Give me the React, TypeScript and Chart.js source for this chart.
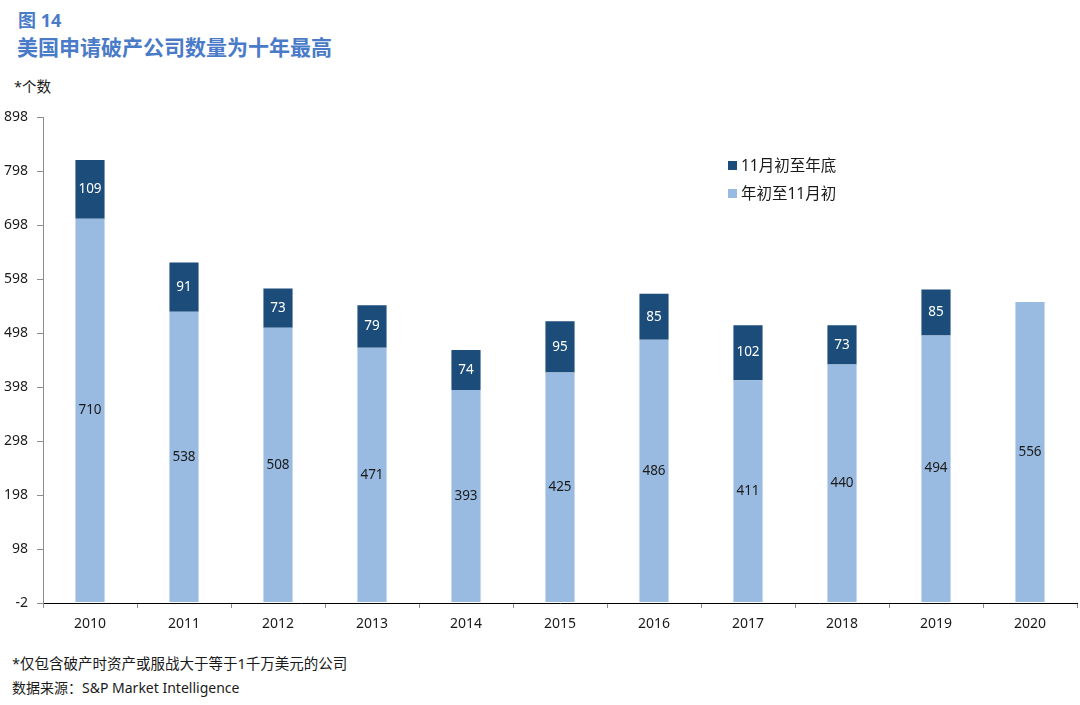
import React, { useEffect, useRef } from "react";
import { Chart, registerables } from "chart.js";

Chart.register(...registerables);

const years = ["2010", "2011", "2012", "2013", "2014", "2015", "2016", "2017", "2018", "2019", "2020"];
const startToNov = [710, 538, 508, 471, 393, 425, 486, 411, 440, 494, 556];
const novToEnd = [109, 91, 73, 79, 74, 95, 85, 102, 73, 85, null];
const seriesNames = ["年初至11月初", "11月初至年底"];
const yMin = -2;
const yMax = 898;
const yStep = 100;

const DARK = "#1C4D7A";
const LIGHT = "#99BBE1";
const TITLE = "#4A7BC8";
const FONT = "'Noto Sans', 'Noto Sans CJK SC', sans-serif";

const labelPlugin = {
  id: "segLabels",
  afterDatasetsDraw(chart: any) {
    const ctx = chart.ctx;
    ctx.save();
    ctx.font = "13.5px " + FONT;
    ctx.textAlign = "center";
    ctx.textBaseline = "middle";
    chart.data.datasets.forEach((ds: any, di: number) => {
      const meta = chart.getDatasetMeta(di);
      meta.data.forEach((el: any, i: number) => {
        const v = ds.data[i];
        if (v == null) return;
        const p = el.getProps(["x", "y", "base"], true);
        ctx.fillStyle = di === 1 ? "#FFFFFF" : "#1a1a1a";
        ctx.fillText(String(v), p.x, (p.y + p.base) / 2);
      });
    });
    ctx.restore();
  },
};

export default function App() {
  const ref = useRef<HTMLCanvasElement>(null);
  useEffect(() => {
    document.body.style.margin = "0";
    const chart = new Chart(ref.current!, {
      type: "bar",
      data: {
        labels: years,
        datasets: [
          { label: seriesNames[0], data: startToNov, backgroundColor: LIGHT, barPercentage: 0.31, categoryPercentage: 1 },
          { label: seriesNames[1], data: novToEnd as any, backgroundColor: DARK, barPercentage: 0.31, categoryPercentage: 1 },
        ],
      },
      options: {
        animation: false,
        responsive: false,
        layout: { padding: { top: 17, right: 3, left: 0, bottom: 0 } },
        plugins: { legend: { display: false }, tooltip: { enabled: false } },
        scales: {
          x: {
            stacked: true,
            border: { color: "#000000", width: 1 },
            grid: { drawOnChartArea: false, drawTicks: true, tickLength: 5, color: "#8c8c8c", offset: true },
            ticks: { color: "#1a1a1a", font: { size: 14, family: FONT }, padding: 8 },
            afterFit(s: any) { s.height = 37; },
          },
          y: {
            stacked: true,
            min: yMin,
            max: yMax,
            ticks: { stepSize: yStep, color: "#1a1a1a", font: { size: 14, family: FONT }, padding: 9 },
            border: { color: "#8c8c8c", width: 1 },
            grid: { drawOnChartArea: false, drawTicks: true, tickLength: 6, color: "#8c8c8c" },
            afterFit(s: any) { s.width = 43; },
          },
        },
      },
      plugins: [labelPlugin],
    });
    return () => chart.destroy();
  }, []);

  return (
    <div style={{ position: "relative", width: 1080, height: 705, background: "#fff", fontFamily: FONT, overflow: "hidden" }}>
      <div style={{ position: "absolute", left: 18, top: 8, fontSize: 18, fontWeight: "bold", color: TITLE, lineHeight: "24px" }}>图 14</div>
      <div style={{ position: "absolute", left: 17, top: 34, fontSize: 21, fontWeight: "bold", color: TITLE, lineHeight: "26px", whiteSpace: "nowrap" }}>美国申请破产公司数量为十年最高</div>
      <div style={{ position: "absolute", left: 14, top: 76, fontSize: 14.5, color: "#1a1a1a", lineHeight: "20px" }}>*个数</div>
      <canvas ref={ref} width={1080} height={540} style={{ position: "absolute", left: 0, top: 100, width: 1080, height: 540 }} />
      <div style={{ position: "absolute", left: 728, top: 154, fontSize: 15.5, color: "#1a1a1a", lineHeight: "23px" }}>
        <div style={{ display: "flex", alignItems: "center" }}>
          <span style={{ display: "inline-block", width: 9, height: 9, background: DARK, marginRight: 4 }} />
          {seriesNames[1]}
        </div>
        <div style={{ display: "flex", alignItems: "center", marginTop: 5 }}>
          <span style={{ display: "inline-block", width: 9, height: 9, background: LIGHT, marginRight: 4 }} />
          {seriesNames[0]}
        </div>
      </div>
      <div style={{ position: "absolute", left: 12, top: 653, fontSize: 14.5, color: "#1a1a1a", lineHeight: "20px", whiteSpace: "nowrap" }}>*仅包含破产时资产或服战大于等于1千万美元的公司</div>
      <div style={{ position: "absolute", left: 12, top: 678, fontSize: 14, color: "#1a1a1a", lineHeight: "20px", whiteSpace: "nowrap" }}>数据来源：S&amp;P Market Intelligence</div>
    </div>
  );
}
